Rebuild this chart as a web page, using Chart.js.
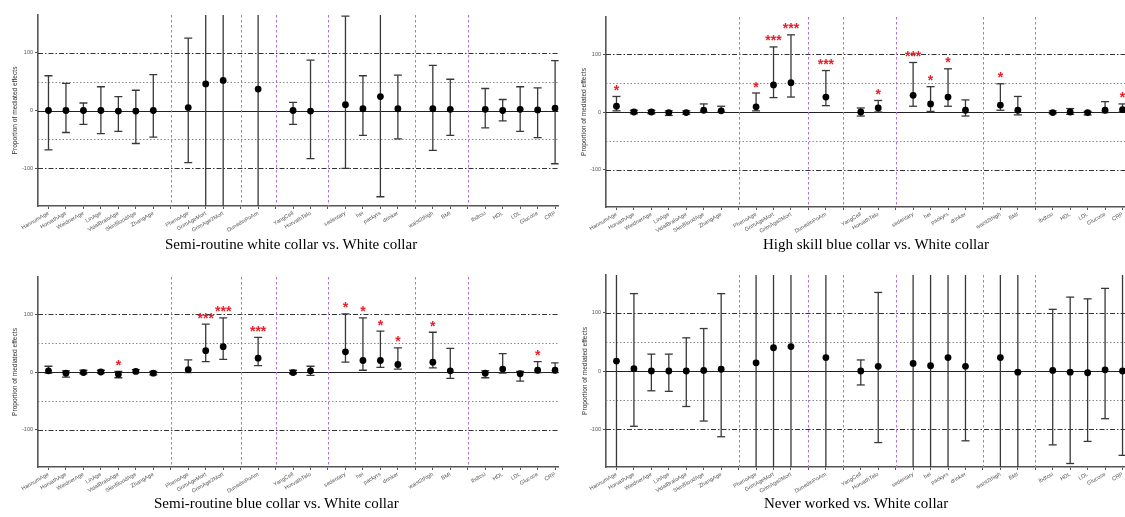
<!DOCTYPE html>
<html><head><meta charset="utf-8">
<script src="https://cdn.jsdelivr.net/npm/chart.js@4.4.1/dist/chart.umd.min.js"></script>
<style>
html,body{margin:0;padding:0;background:#fff;overflow:hidden;width:1125px;height:517px;position:relative;}
canvas{position:absolute;}
.t{position:absolute;font-family:"Liberation Serif","Times New Roman",serif;font-size:15px;line-height:17px;white-space:nowrap;color:#000;}
</style></head><body>
<canvas id="c1" width="562" height="240" style="left:0;top:0"></canvas>
<canvas id="c2" width="580" height="240" style="left:560px;top:0"></canvas>
<canvas id="c3" width="562" height="240" style="left:0;top:260px"></canvas>
<canvas id="c4" width="580" height="240" style="left:560px;top:260px"></canvas>
<div class="t" style="left:165px;top:236px">Semi-routine white collar vs. White collar</div>
<div class="t" style="left:763px;top:236px">High skill blue collar vs. White collar</div>
<div class="t" style="left:154px;top:495px">Semi-routine blue collar vs. White collar</div>
<div class="t" style="left:764px;top:495px">Never worked vs. White collar</div>
<script>
// ---- categories (grouped; groups separated by dashed purple lines) ----
const groupAges   = ['HannumAge','HorvathAge','WeidnerAge','LinAge','VidalBraloAge','SkinBloodAge','ZhangAge'];
const groupMort   = ['PhenoAge','GrimAgeMort','GrimAge2Mort'];
const groupPace   = ['DunedinPoAm'];
const groupCell   = ['YangCell','HorvathTelo'];
const groupLife   = ['sedentary','hei','packyrs','drinker'];
const groupBody   = ['waist2thigh','BMI'];
const groupBlood  = ['lbdtcsi','HDL','LDL','Glucose','CRP'];
const groups = [groupAges, groupMort, groupPace, groupCell, groupLife, groupBody, groupBlood];

const yTickValues = [-100, 0, 100];
const refLines = [100, 50, 0, -50, -100];

// ---- Panel 1: Semi-routine white collar vs. White collar ----
const p1Est = [0,0,0,0,-1,-1,0, 5,46,52, 37, 0,-1, 10,3,24,3, 3,2, 2,0,2,1,4];
const p1Lo  = [-68,-38,-24,-40,-36,-57,-46, -90,-300,-300, -300, -24,-83, -100,-43,-149,-49, -69,-43, -30,-18,-36,-47,-92];
const p1Hi  = [60,47,13,41,24,35,62, 125,300,300, 300, 14,87, 163,60,300,61, 78,54, 38,19,41,39,86];
const p1Sig = ['','','','','','','', '','','', '', '','', '','','','', '','', '','','','',''];

// ---- Panel 2: High skill blue collar vs. White collar ----
const p2Est = [10,0,0,-1,-1,3,2, 9,47,51, 26, 0,7, 29,14,26,3, 12,3, -1,0,-1,3,4];
const p2Lo  = [2,-3,-3,-6,-4,0,0, 2,25,26, 11, -7,0, 10,1,10,-7, 3,-5, -3,-4,-5,-1,0];
const p2Hi  = [27,3,3,2,2,14,10, 33,113,134, 72, 7,20, 86,44,75,21, 49,27, 2,6,1,18,14];
const p2Sig = ['*','','','','','','', '*','***','***', '***', '','*', '***','*','*','', '*','', '','','','','*'];

// ---- Panel 3: Semi-routine blue collar vs. White collar ----
const p3Est = [2,-2,-1,0,-4,1,-2, 4,37,44, 24, -1,2, 35,20,20,13, 17,2, -2,5,-3,3,3];
const p3Lo  = [-2,-9,-3,-2,-10,-1,-5, -1,18,22, 11, -3,-6, 17,3,8,5, 7,-11, -10,-2,-16,-1,-1];
const p3Hi  = [10,2,3,3,1,4,1, 21,83,94, 60, 3,10, 101,94,71,42, 69,41, 2,32,1,18,16];
const p3Sig = ['','','','','*','','', '','***','***', '***', '','', '*','*','*','*', '*','', '','','','*',''];

// ---- Panel 4: Never worked vs. White collar ----
const p4Est = [17,4,0,0,0,1,3, 14,40,42, 23, 0,8, 13,9,23,8, 23,-2, 1,-2,-3,2,0];
const p4Lo  = [-300,-95,-34,-35,-61,-86,-113, -300,-300,-300, -300, -24,-123, -300,-300,-300,-120, -300,-300, -127,-159,-121,-82,-145];
const p4Hi  = [300,133,29,29,57,73,133, 300,300,300, 300, 19,135, 300,300,300,300, 300,300, 106,127,124,142,300];
const p4Sig = ['','','','','','','', '','','', '', '','', '','','','', '','', '','','','',''];

// ---- build slot layout from groups ----
const slotLabels = [], catSlot = [], sepSlots = [];
groups.forEach((g, gi) => {
  if (gi > 0) { sepSlots.push(slotLabels.length); slotLabels.push(''); }
  g.forEach(c => { catSlot.push(slotLabels.length); slotLabels.push(c); });
});
const categories = groups.flat();

const decorPlugin = {
  id: 'decor',
  beforeDatasetsDraw(chart) {
    const {ctx, chartArea: a, scales: {x, y}} = chart;
    ctx.save();
    ctx.beginPath(); ctx.rect(a.left, a.top, a.right - a.left, a.bottom - a.top); ctx.clip();
    // horizontal reference lines
    refLines.forEach(v => {
      const py = Math.round(y.getPixelForValue(v)) + 0.5;
      ctx.beginPath();
      if (v === 0) { ctx.setLineDash([]); ctx.strokeStyle = '#222'; ctx.lineWidth = 1.1; }
      else if (Math.abs(v) === 50) { ctx.setLineDash([1.5, 2]); ctx.strokeStyle = '#8a8a8a'; ctx.lineWidth = 1; }
      else { ctx.setLineDash([5, 2, 1.5, 2]); ctx.strokeStyle = '#333'; ctx.lineWidth = 1; }
      ctx.moveTo(a.left, py); ctx.lineTo(a.right, py); ctx.stroke();
    });
    // vertical group separators
    ctx.setLineDash([2.5, 2.5]); ctx.strokeStyle = '#b06ee0'; ctx.lineWidth = 1;
    sepSlots.forEach(s => {
      const px = Math.round(x.getPixelForValue(s)) + 0.5;
      ctx.beginPath(); ctx.moveTo(px, a.top); ctx.lineTo(px, a.bottom); ctx.stroke();
    });
    // error bars
    const ds = chart.data.datasets[0];
    ctx.setLineDash([]); ctx.strokeStyle = '#383838'; ctx.lineWidth = 1.3;
    ds.lo.forEach((lo, i) => {
      const hi = ds.hi[i];
      const px = x.getPixelForValue(catSlot[i]);
      const pl = y.getPixelForValue(lo), ph = y.getPixelForValue(hi);
      ctx.beginPath(); ctx.moveTo(px, pl); ctx.lineTo(px, ph); ctx.stroke();
      const cw = 4;
      if (lo >= y.min) { ctx.beginPath(); ctx.moveTo(px - cw, pl); ctx.lineTo(px + cw, pl); ctx.stroke(); }
      if (hi <= y.max) { ctx.beginPath(); ctx.moveTo(px - cw, ph); ctx.lineTo(px + cw, ph); ctx.stroke(); }
    });
    ctx.restore();
  },
  afterDatasetsDraw(chart) {
    const {ctx, scales: {x, y}} = chart;
    const ds = chart.data.datasets[0];
    ctx.save();
    ctx.fillStyle = '#e8202a';
    ctx.font = 'bold 14px "Liberation Sans", Arial, sans-serif';
    ctx.textAlign = 'center'; ctx.textBaseline = 'alphabetic';
    ds.sig.forEach((s, i) => {
      if (!s) return;
      const px = x.getPixelForValue(catSlot[i]);
      const py = y.getPixelForValue(ds.hi[i]);
      ctx.fillText(s, px, py - 1.5);
    });
    ctx.restore();
  }
};

function makePanel(id, est, lo, hi, sig, cfg) {
  new Chart(document.getElementById(id), {
    type: 'scatter',
    data: {
      datasets: [{
        data: categories.map((c, i) => ({x: catSlot[i], y: est[i]})),
        lo, hi, sig,
        pointRadius: 3.4, pointHoverRadius: 3.4,
        backgroundColor: '#000', borderWidth: 0
      }]
    },
    options: {
      responsive: false, animation: false, events: [],
      layout: {padding: {top: cfg.padTop, right: cfg.padRight, left: 0, bottom: 0}},
      plugins: {legend: {display: false}, tooltip: {enabled: false}},
      scales: {
        x: {
          type: 'linear', min: -0.6, max: cfg.xMax,
          afterBuildTicks(s) { s.ticks = slotLabels.map((_, i) => ({value: i})); },
          afterFit(s) { s.height = cfg.xH; },
          ticks: {
            autoSkip: false, minRotation: 30, maxRotation: 30, padding: 1,
            color: '#555', font: {family: '"Liberation Sans", Arial, sans-serif', size: 5.5},
            callback: (v) => slotLabels[Math.round(v)] || ''
          },
          grid: {drawOnChartArea: false, drawTicks: true, tickLength: 3, color: '#555', lineWidth: 1},
          border: {display: true, color: '#555', width: 1.6}
        },
        y: {
          type: 'linear', min: -165, max: 165,
          afterBuildTicks(s) { s.ticks = yTickValues.map(v => ({value: v})); },
          afterFit(s) { s.width = cfg.yW; },
          ticks: {color: '#555', padding: 2, font: {family: '"Liberation Sans", Arial, sans-serif', size: 5.5}},
          grid: {drawOnChartArea: false, drawTicks: true, tickLength: 3, color: '#555', lineWidth: 1},
          border: {display: true, color: '#555', width: 1.6},
          title: {display: true, text: 'Proportion of mediated effects', color: '#333',
                  padding: {top: cfg.titlePad, bottom: 0},
                  font: {family: '"Liberation Sans", Arial, sans-serif', size: 6.6}}
        }
      }
    },
    plugins: [decorPlugin]
  });
}

makePanel('c1', p1Est, p1Lo, p1Hi, p1Sig, {padTop: 15, padRight: 2, xMax: 29.2, xH: 34, yW: 38, titlePad: 11});
makePanel('c2', p2Est, p2Lo, p2Hi, p2Sig, {padTop: 17, padRight: 7, xMax: 29.6, xH: 33, yW: 46, titlePad: 20});
makePanel('c3', p3Est, p3Lo, p3Hi, p3Sig, {padTop: 17, padRight: 2, xMax: 29.2, xH: 33, yW: 38, titlePad: 11});
makePanel('c4', p4Est, p4Lo, p4Hi, p4Sig, {padTop: 15, padRight: 7, xMax: 29.6, xH: 33, yW: 46, titlePad: 21});
</script>
</body></html>
